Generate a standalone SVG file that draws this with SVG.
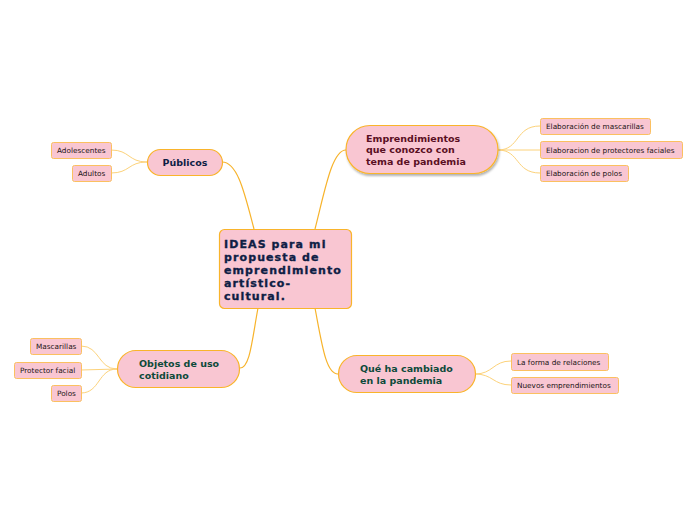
<svg xmlns="http://www.w3.org/2000/svg" width="696" height="520" viewBox="0 0 696 520">
<defs>
<style>
.node{fill:#f9c6d2;stroke:#f9b42b;stroke-width:1.2}
.leaf{fill:#f9c6d2;stroke:#fbc060;stroke-width:1}
.conn{fill:none;stroke:#f7b32b;stroke-width:1.2}
.lconn{fill:none;stroke:#fcd27a;stroke-width:1}
.lt{font-family:"DejaVu Sans","Noto Sans",sans-serif;font-size:7.3px;fill:#221414}
.mt{font-family:"DejaVu Sans","Noto Sans",sans-serif;font-size:9.5px;font-weight:bold}
.ct{font-family:"DejaVu Sans","Noto Sans",sans-serif;font-size:11px;font-weight:bold;fill:#0f1e45;letter-spacing:1.1px;stroke:#0f1e45;stroke-width:0.35px}
</style>
<filter id="sh" x="-10%" y="-10%" width="130%" height="140%">
<feDropShadow dx="1" dy="2" stdDeviation="1.2" flood-color="#000" flood-opacity="0.3"/>
</filter>
</defs>
<rect width="696" height="520" fill="#ffffff"/>
<g id="connectors">
<path class="conn" d="M254,229 C245,195 238,162 222,162"/>
<path class="conn" d="M315,229 C325,190 332,150 346,150"/>
<path class="conn" d="M258,308 C252,340 250,368 240,368"/>
<path class="conn" d="M315,308 C322,345 326,374 338,374"/>
<path class="lconn" d="M498,150 C520,150 515,126 540,126"/>
<path class="lconn" d="M498,150 L540,150"/>
<path class="lconn" d="M498,150 C520,150 515,173 540,173"/>
<path class="lconn" d="M147,162 C128,162 130,150 111,150"/>
<path class="lconn" d="M147,162 C128,162 130,173 111,173"/>
<path class="lconn" d="M117,369 C98,369 100,346 81,346"/>
<path class="lconn" d="M117,369 L81,370"/>
<path class="lconn" d="M117,369 C98,369 100,393 81,393"/>
<path class="lconn" d="M475,374 C493,374 493,361 511,361"/>
<path class="lconn" d="M475,374 C493,374 493,385 511,385"/>
</g>
<g id="central">
<rect class="node" x="219.5" y="229.5" width="132" height="79" rx="5"/>
<text class="ct" x="224" y="248">IDEAS para mi</text>
<text class="ct" x="224" y="261">propuesta de</text>
<text class="ct" x="224" y="274">emprendimiento</text>
<text class="ct" x="224" y="287">artístico-</text>
<text class="ct" x="224" y="300">cultural.</text>
</g>
<g id="publicos">
<rect class="node" x="147.5" y="149.5" width="75" height="26" rx="13"/>
<text class="mt" x="185" y="166" text-anchor="middle" fill="#0f1e45">Públicos</text>
</g>
<g id="emprendimientos">
<rect class="node" x="346" y="125.5" width="152" height="48" rx="24" filter="url(#sh)"/>
<text class="mt" x="366" y="142" fill="#5a0f23">Emprendimientos</text>
<text class="mt" x="366" y="153" fill="#5a0f23">que conozco con</text>
<text class="mt" x="366" y="165" fill="#5a0f23">tema de pandemia</text>
</g>
<g id="objetos">
<rect class="node" x="117.5" y="350.5" width="122" height="37" rx="18.5"/>
<text class="mt" x="139" y="367" fill="#0d4a3a">Objetos de uso</text>
<text class="mt" x="139" y="379" fill="#0d4a3a">cotidiano</text>
</g>
<g id="cambiado">
<rect class="node" x="338.5" y="355.5" width="137" height="37" rx="18.5"/>
<text class="mt" x="360" y="372" fill="#0d4a3a">Qué ha cambiado</text>
<text class="mt" x="360" y="384" fill="#0d4a3a">en la pandemia</text>
</g>
<g id="leaf-mascarillas1">
<rect class="leaf" x="540.5" y="118.5" width="110" height="16" rx="2"/>
<text class="lt" x="546" y="129">Elaboración de mascarillas</text>
</g>
<g id="leaf-protectores">
<rect class="leaf" x="540.5" y="141.5" width="142" height="17" rx="2"/>
<text class="lt" x="546" y="153">Elaboracion de protectores faciales</text>
</g>
<g id="leaf-polos1">
<rect class="leaf" x="540.5" y="165.5" width="88" height="16" rx="2"/>
<text class="lt" x="546" y="176">Elaboración de polos</text>
</g>
<g id="leaf-adolescentes">
<rect class="leaf" x="51.5" y="142.5" width="60" height="16" rx="2"/>
<text class="lt" x="57" y="153">Adolescentes</text>
</g>
<g id="leaf-adultos">
<rect class="leaf" x="72.5" y="165.5" width="39" height="16" rx="2"/>
<text class="lt" x="78" y="176">Adultos</text>
</g>
<g id="leaf-mascarillas2">
<rect class="leaf" x="30.5" y="338.5" width="51" height="16" rx="2"/>
<text class="lt" x="36" y="349">Mascarillas</text>
</g>
<g id="leaf-protector">
<rect class="leaf" x="14.5" y="362.5" width="67" height="16" rx="2"/>
<text class="lt" x="20" y="373">Protector facial</text>
</g>
<g id="leaf-polos2">
<rect class="leaf" x="51.5" y="385.5" width="30" height="16" rx="2"/>
<text class="lt" x="57" y="396">Polos</text>
</g>
<g id="leaf-relaciones">
<rect class="leaf" x="511.5" y="353.5" width="97" height="17" rx="2"/>
<text class="lt" x="517" y="365">La forma de relaciones</text>
</g>
<g id="leaf-nuevos">
<rect class="leaf" x="511.5" y="377.5" width="107" height="16" rx="2"/>
<text class="lt" x="517" y="388">Nuevos emprendimientos</text>
</g>
</svg>
